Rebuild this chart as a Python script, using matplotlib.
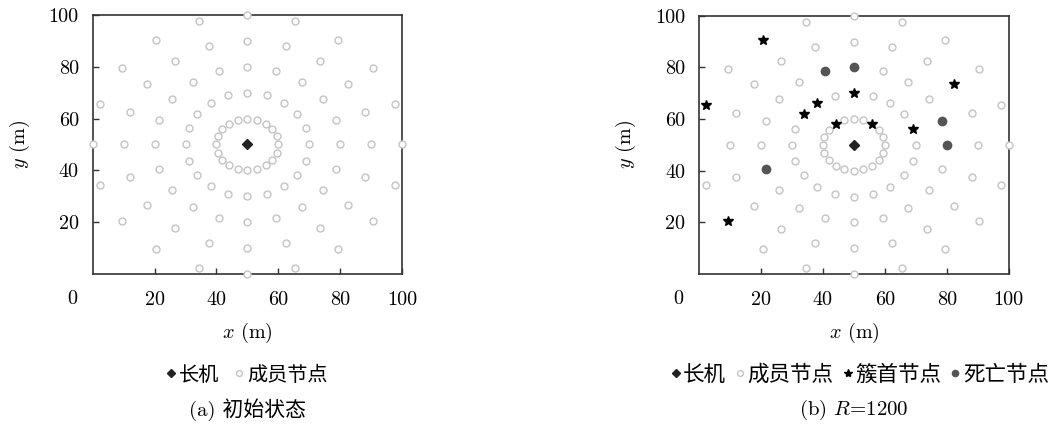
import matplotlib
matplotlib.use('Agg')
import matplotlib.pyplot as plt
from matplotlib.lines import Line2D

plt.rcParams['mathtext.fontset'] = 'cm'
plt.rcParams['font.family'] = ['cmr10', 'Noto Sans CJK SC']
plt.rcParams['axes.formatter.use_mathtext'] = True

# member nodes, read ring by ring (r = 10 ... 50 around the leader)
member_x = [50, 53.1, 55.9, 58.1, 59.5, 60, 59.5, 58.1, 55.9, 53.1, 50, 46.9, 44.1, 41.9, 40.5, 40, 40.5, 41.9, 44.1, 46.9,
            50, 56.2, 61.8, 66.2, 69.0, 70, 69.0, 66.2, 61.8, 56.2, 50, 43.8, 38.2, 33.8, 31.0, 30, 31.0, 33.8, 38.2, 43.8,
            50, 59.3, 67.6, 74.3, 78.5, 80, 78.5, 74.3, 67.6, 59.3, 50, 40.7, 32.4, 25.7, 21.5, 20, 21.5, 25.7, 32.4, 40.7,
            50, 62.4, 73.5, 82.4, 88.0, 90, 88.0, 82.4, 73.5, 62.4, 50, 37.6, 26.5, 17.6, 12.0, 10, 12.0, 17.6, 26.5, 37.6,
            50, 65.5, 79.4, 90.5, 97.6, 100, 97.6, 90.5, 79.4, 65.5, 50, 34.5, 20.6, 9.5, 2.4, 0, 2.4, 9.5, 20.6, 34.5]
member_y = [60, 59.5, 58.1, 55.9, 53.1, 50, 46.9, 44.1, 41.9, 40.5, 40, 40.5, 41.9, 44.1, 46.9, 50, 53.1, 55.9, 58.1, 59.5,
            70, 69.0, 66.2, 61.8, 56.2, 50, 43.8, 38.2, 33.8, 31.0, 30, 31.0, 33.8, 38.2, 43.8, 50, 56.2, 61.8, 66.2, 69.0,
            80, 78.5, 74.3, 67.6, 59.3, 50, 40.7, 32.4, 25.7, 21.5, 20, 21.5, 25.7, 32.4, 40.7, 50, 59.3, 67.6, 74.3, 78.5,
            90, 88.0, 82.4, 73.5, 62.4, 50, 37.6, 26.5, 17.6, 12.0, 10, 12.0, 17.6, 26.5, 37.6, 50, 62.4, 73.5, 82.4, 88.0,
            100, 97.6, 90.5, 79.4, 65.5, 50, 34.5, 20.6, 9.5, 2.4, 0, 2.4, 9.5, 20.6, 34.5, 50, 65.5, 79.4, 90.5, 97.6]

leader_x = [50]
leader_y = [50]

# panel (b), R=1200
head_x = [20.6, 2.4, 9.5, 38.2, 33.8, 44.1, 50, 55.9, 69.0, 82.4]
head_y = [90.5, 65.5, 20.6, 66.2, 61.8, 58.1, 70, 58.1, 56.2, 73.5]
dead_x = [40.7, 50, 78.5, 80, 21.5]
dead_y = [78.5, 80, 59.3, 50, 40.7]
gone_x = [0]
gone_y = [50]

ticks = [20, 40, 60, 80, 100]
captions = ['(a) 初始状态', '(b) $R$=1200']

taken = set(zip(head_x + dead_x + gone_x, head_y + dead_y + gone_y))
mb = [(x, y) for x, y in zip(member_x, member_y) if (x, y) not in taken]
member_bx = [p[0] for p in mb]
member_by = [p[1] for p in mb]

fig = plt.figure(figsize=(10.5, 4.26), dpi=100)
ax1 = fig.add_axes([0.0883, 0.3568, 0.2946, 0.608])
ax2 = fig.add_axes([0.6657, 0.3568, 0.2950, 0.606])

mem_style = dict(ls='none', marker='o', ms=5, mfc='white', mec='#c4c4c4', mew=1.0,
                 clip_on=False, zorder=3)
lead_style = dict(ls='none', marker='D', ms=5.5, color='#222222', clip_on=False, zorder=4)
head_style = dict(ls='none', marker='*', ms=7, color='black', clip_on=False, zorder=4)
dead_style = dict(ls='none', marker='o', ms=6, color='#555555', clip_on=False, zorder=4)

ax1.plot(member_x, member_y, **mem_style)
ax1.plot(leader_x, leader_y, **lead_style)

ax2.plot(member_bx, member_by, **mem_style)
ax2.plot(leader_x, leader_y, **lead_style)
ax2.plot(head_x, head_y, **head_style)
ax2.plot(dead_x, dead_y, **dead_style)

# smaller markers in the legends
h_lead = Line2D([], [], ls='none', marker='D', ms=4.2, color='#222222')
h_mem = Line2D([], [], ls='none', marker='o', ms=4.2, mfc='white', mec='#c4c4c4', mew=1.0)
h_head = Line2D([], [], ls='none', marker='*', ms=6, color='black')
h_dead = Line2D([], [], ls='none', marker='o', ms=4.5, color='#555555')

for i, ax in enumerate([ax1, ax2]):
    ax.set_xlim(0, 100)
    ax.set_ylim(0, 100)
    ax.set_xticks(ticks)
    ax.set_yticks(ticks)
    ax.set_xticklabels([str(t) for t in ticks])
    ax.set_yticklabels([str(t) for t in ticks])
    ax.tick_params(direction='in', length=4, width=1, colors='#333333',
                   labelcolor='black', labelsize=14.5, pad=12)
    ax.tick_params(axis='y', pad=10)
    for s in ax.spines.values():
        s.set_color('#333333')
        s.set_linewidth(1.2)
    ax.text(-0.067, -0.097, '0', transform=ax.transAxes, ha='center', va='center', fontsize=14.5)
    ax.text(0.5, -0.228, '$x$ (m)', transform=ax.transAxes, ha='center', va='center', fontsize=14.5)
    ax.text(-0.235, 0.5, '$y$ (m)', transform=ax.transAxes, ha='center', va='center',
            rotation=90, fontsize=14.5)
    ax.text(0.5, -0.525, captions[i], transform=ax.transAxes, ha='center', va='center', fontsize=15)

ax1.legend([h_lead, h_mem], ['长机', '成员节点'], loc='center', bbox_to_anchor=(0.5, -0.39),
           ncol=2, frameon=False, prop={'family': ['Noto Sans CJK SC'], 'size': 14.5},
           handlelength=0.4, handletextpad=0.2, columnspacing=0.8)
ax2.legend([h_lead, h_mem, h_head, h_dead], ['长机', '成员节点', '簇首节点', '死亡节点'], loc='center',
           bbox_to_anchor=(0.52, -0.39), ncol=4, frameon=False,
           prop={'family': ['Noto Sans CJK SC'], 'size': 15.5},
           handlelength=0.4, handletextpad=0.15, columnspacing=0.45)

fig.savefig('out.png', dpi=100)
